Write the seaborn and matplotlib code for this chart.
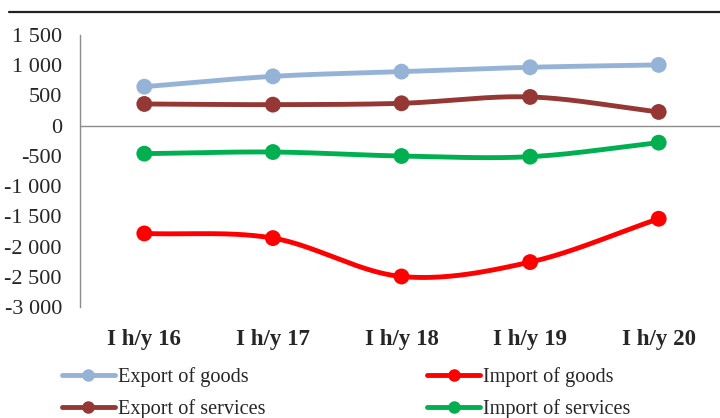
import numpy as np
import pandas as pd
import matplotlib
matplotlib.use("Agg")
import matplotlib.pyplot as plt
from matplotlib.lines import Line2D
import seaborn as sns

categories = ["I h/y 16", "I h/y 17", "I h/y 18", "I h/y 19", "I h/y 20"]
export_goods = [645, 816, 894, 966, 1005]
import_goods = [-1783, -1860, -2495, -2257, -1540]
export_services = [359, 348, 370, 475, 227]
import_services = [-463, -436, -502, -513, -281]
yticks = [1500, 1000, 500, 0, -500, -1000, -1500, -2000, -2500, -3000]
ytick_labels = ["1 500", "1 000", "500", "0", "-500", "-1 000", "-1 500", "-2 000", "-2 500", "-3 000"]

series = {
    "Export of goods": export_goods,
    "Import of goods": import_goods,
    "Export of services": export_services,
    "Import of services": import_services,
}
colors = {
    "Export of goods": "#95B3D7",
    "Import of goods": "#FF0000",
    "Export of services": "#953735",
    "Import of services": "#00B050",
}

sns.set_style("white")
plt.rcParams["font.family"] = ["Liberation Serif", "DejaVu Serif"]


def catmull_rom(y, n=40):
    """Excel-style smoothed rendering between the given points."""
    y = np.asarray(y, dtype=float)
    x = np.arange(len(y), dtype=float)
    px = np.concatenate([[2 * x[0] - x[1]], x, [2 * x[-1] - x[-2]]])
    py = np.concatenate([[2 * y[0] - y[1]], y, [2 * y[-1] - y[-2]]])
    xs, ys = [], []
    for i in range(1, len(px) - 2):
        t = np.linspace(0, 1, n, endpoint=(i == len(px) - 3))
        for arr, out in ((px, xs), (py, ys)):
            p0, p1, p2, p3 = arr[i - 1], arr[i], arr[i + 1], arr[i + 2]
            out.append(0.5 * ((2 * p1) + (-p0 + p2) * t
                              + (2 * p0 - 5 * p1 + 4 * p2 - p3) * t ** 2
                              + (-p0 + 3 * p1 - 3 * p2 + p3) * t ** 3))
    return np.concatenate(xs), np.concatenate(ys)


curve_rows, point_rows = [], []
for name, vals in series.items():
    cx, cy = catmull_rom(vals)
    curve_rows.append(pd.DataFrame({"x": cx, "y": cy, "series": name}))
    point_rows.append(pd.DataFrame({"x": np.arange(len(vals)), "y": vals, "series": name}))
curves = pd.concat(curve_rows, ignore_index=True)
points = pd.concat(point_rows, ignore_index=True)

fig = plt.figure(figsize=(7.2, 4.18), dpi=100)
ax = fig.add_axes([80 / 720, 1 - 307 / 418, 643 / 720, 272 / 418])

ax.axhline(0, color="#8C8C8C", lw=1.0, zorder=1)
sns.lineplot(data=curves, x="x", y="y", hue="series", palette=colors,
             linewidth=3.5, sort=False, estimator=None, legend=False, ax=ax, zorder=2)
sns.scatterplot(data=points, x="x", y="y", hue="series", palette=colors,
                s=130, edgecolor="none", legend=False, ax=ax, zorder=3)

ax.set_xlim(-0.5, 4.5)
ax.set_ylim(-3000, 1500)
ax.set_xticks(range(len(categories)))
ax.set_xticklabels(categories, fontsize=16.5, fontweight="bold")
ax.set_yticks(yticks)
ax.set_yticklabels(ytick_labels, fontsize=16)
ax.tick_params(axis="both", length=0)
ax.tick_params(axis="x", pad=16)
ax.tick_params(axis="y", pad=13)
ax.set_xlabel("")
ax.set_ylabel("")
for side in ["top", "right", "bottom"]:
    ax.spines[side].set_visible(False)
ax.spines["left"].set_color("#8C8C8C")
ax.spines["left"].set_linewidth(1.0)

handles = [Line2D([0], [0], color=colors[n], lw=3.5, marker="o", markersize=8,
                  markevery=[1]) for n in series]
order = ["Export of goods", "Export of services", "Import of goods", "Import of services"]
hmap = dict(zip(series.keys(), handles))
fig.legend([hmap[n] for n in order], order, loc="upper left",
           bbox_to_anchor=(62 / 720, 1 - 367 / 418), ncol=2, frameon=False,
           fontsize=14.6, handlelength=2.6, handletextpad=0.15,
           columnspacing=8.0, labelspacing=0.62, borderpad=0, borderaxespad=0)

fig.add_artist(Line2D([9 / 720, 1.0], [1 - 12 / 418, 1 - 12 / 418],
                      color="#222222", lw=1.6, transform=fig.transFigure))

fig.savefig("out.png", dpi=100)
